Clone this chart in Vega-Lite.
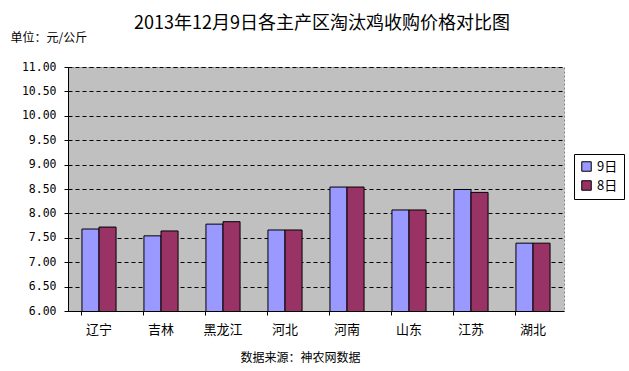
{
  "$schema": "https://vega.github.io/schema/vega-lite/v6.json",
  "autosize": "none",
  "width": 496,
  "height": 244,
  "padding": {"left": 68, "top": 67, "right": 65, "bottom": 60},
  "background": "white",
  "title": {
    "text": "2013年12月9日各主产区淘汰鸡收购价格对比图",
    "font": "Noto Sans CJK SC",
    "fontSize": 18,
    "fontWeight": "normal",
    "color": "black",
    "anchor": "middle",
    "frame": "group",
    "dx": 6,
    "offset": -2
  },
  "config": {
    "view": {"fill": "#C0C0C0", "stroke": "#808080", "strokeDash": [2, 2]},
    "axis": {"labelFont": "Noto Sans CJK SC", "titleFont": "Noto Sans CJK SC", "labelColor": "black", "titleColor": "black"}
  },
  "data": {
    "values": [
      {"region": "辽宁", "day": "9日", "price": 7.68},
      {"region": "辽宁", "day": "8日", "price": 7.72},
      {"region": "吉林", "day": "9日", "price": 7.54},
      {"region": "吉林", "day": "8日", "price": 7.64},
      {"region": "黑龙江", "day": "9日", "price": 7.78},
      {"region": "黑龙江", "day": "8日", "price": 7.83},
      {"region": "河北", "day": "9日", "price": 7.66},
      {"region": "河北", "day": "8日", "price": 7.66},
      {"region": "河南", "day": "9日", "price": 8.54},
      {"region": "河南", "day": "8日", "price": 8.54},
      {"region": "山东", "day": "9日", "price": 8.07},
      {"region": "山东", "day": "8日", "price": 8.07},
      {"region": "江苏", "day": "9日", "price": 8.49},
      {"region": "江苏", "day": "8日", "price": 8.43},
      {"region": "湖北", "day": "9日", "price": 7.39},
      {"region": "湖北", "day": "8日", "price": 7.39}
    ]
  },
  "mark": {"type": "bar", "stroke": "black", "strokeWidth": 1, "clip": true},
  "encoding": {
    "x": {
      "field": "region",
      "type": "nominal",
      "sort": null,
      "scale": {"paddingInner": 0.45, "paddingOuter": 0.225},
      "axis": {
        "title": "数据来源：神农网数据",
        "titleFontSize": 12,
        "titleFontWeight": "normal",
        "titleX": 232,
        "titleY": 46,
        "titleAlign": "center",
        "titleBaseline": "middle",
        "labelAngle": 0,
        "labelFontSize": 13,
        "labelPadding": 8,
        "bandPosition": 0,
        "ticks": true,
        "tickColor": "black",
        "tickSize": 4,
        "domainColor": "black",
        "grid": false
      }
    },
    "xOffset": {"field": "day", "type": "nominal", "sort": ["9日", "8日"], "scale": {"paddingInner": 0, "paddingOuter": 0}},
    "y": {
      "field": "price",
      "type": "quantitative",
      "scale": {"domain": [6, 11], "zero": false},
      "axis": {
        "values": [6, 6.5, 7, 7.5, 8, 8.5, 9, 9.5, 10, 10.5, 11],
        "format": ".2f",
        "labelFont": "DejaVu Sans Mono",
        "labelFontSize": 11.5,
        "labelPadding": 8,
        "ticks": true,
        "tickColor": "black",
        "tickSize": 4,
        "domainColor": "black",
        "grid": true,
        "gridColor": "black",
        "gridDash": [4, 3],
        "gridWidth": 1,
        "title": "单位：元/公斤",
        "titleFontSize": 12,
        "titleFontWeight": "normal",
        "titleAngle": 0,
        "titleX": -58,
        "titleY": -30,
        "titleAlign": "left",
        "titleBaseline": "middle"
      }
    },
    "color": {
      "field": "day",
      "type": "nominal",
      "sort": ["9日", "8日"],
      "scale": {"domain": ["9日", "8日"], "range": ["#9999FF", "#993366"]},
      "legend": {
        "title": null,
        "orient": "none",
        "legendX": 506,
        "legendY": 87,
        "symbolType": "square",
        "symbolSize": 90,
        "symbolStrokeColor": "black",
        "symbolStrokeWidth": 1,
        "labelFont": "Noto Sans CJK SC",
        "labelFontSize": 13,
        "labelColor": "black",
        "strokeColor": "black",
        "fillColor": "white",
        "padding": 6,
        "rowPadding": 4
      }
    }
  }
}
